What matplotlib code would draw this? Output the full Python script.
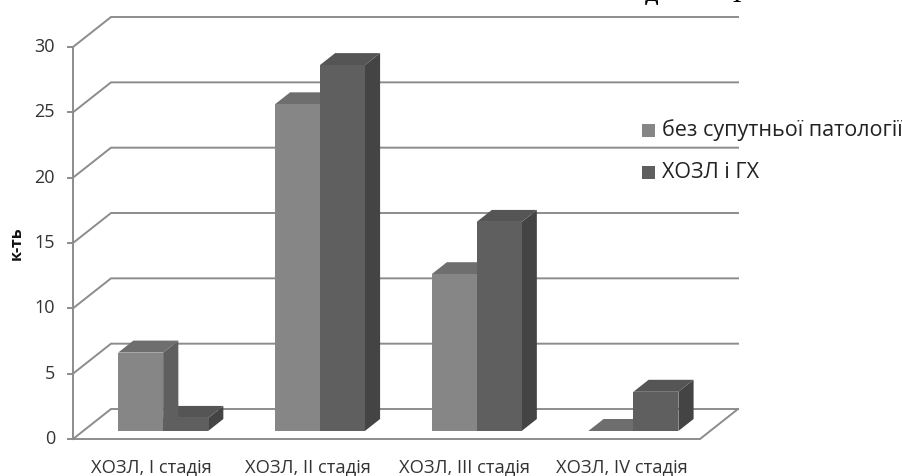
#!/usr/bin/env python

import matplotlib
matplotlib.use("Agg")
import matplotlib.pyplot as plt
from matplotlib.patches import Polygon

plt.rcParams['font.family'] = ['Open Sans', 'DejaVu Sans']

categories = ['ХОЗЛ, I стадія', 'ХОЗЛ, II стадія', 'ХОЗЛ, III стадія', 'ХОЗЛ, IV стадія']
series_names = ['без супутньої патології', 'ХОЗЛ і ГХ']
plain = [6, 25, 12, 0]
with_gh = [1, 28, 16, 3]
yticks = [0, 5, 10, 15, 20, 25, 30]

GRID = '#8c8c8c'
COLOURS = [('#868686', '#6e6e6e', '#5f5f5f'), ('#5f5f5f', '#555555', '#444444')]

# depth of the 3d box in data units (38px across, 30px up)
DX = 38 / 156.75
DY = 30 / 13.07
BAR_W = 45 / 156.75
GAP = 35 / 156.75


def shift(x, y, d):
    return (x + d * DX, y + d * DY)


def bar3d(ax, x, h, cols):
    front, top, side = cols
    d0, d1 = 0.267, 0.667
    x1 = x + BAR_W
    if h > 0:
        ax.add_patch(Polygon([shift(x, 0, d0), shift(x1, 0, d0), shift(x1, h, d0), shift(x, h, d0)],
                             fc=front, ec='none', zorder=3))
        ax.add_patch(Polygon([shift(x1, 0, d0), shift(x1, 0, d1), shift(x1, h, d1), shift(x1, h, d0)],
                             fc=side, ec='none', zorder=2.5))
    ax.add_patch(Polygon([shift(x, h, d0), shift(x1, h, d0), shift(x1, h, d1), shift(x, h, d1)],
                         fc=top, ec='none', zorder=2.5))


fig = plt.figure(figsize=(9.03, 4.76), dpi=100)
ax = fig.add_axes([73 / 903, 1 - 439 / 476, 627 / 903, 392 / 476])
ax.set_xlim(0, 4)
ax.set_ylim(0, 30)
ax.patch.set_visible(False)
for s in ax.spines.values():
    s.set_visible(False)

# walls and gridlines
for v in yticks:
    p0 = (0, v)
    p1 = shift(0, v, 1)
    p2 = shift(4, v, 1)
    ax.plot([p0[0], p1[0], p2[0]], [p0[1], p1[1], p2[1]], color=GRID, lw=1.4,
            clip_on=False, zorder=1, solid_joinstyle='miter')
    ax.plot([-5 / 156.75, 0], [v, v], color=GRID, lw=1.4, clip_on=False, zorder=1)
    ax.text(-18 / 156.75, v, str(v), ha='right', va='center', fontsize=13, color='#333333')

ax.plot([0, 0], [0, 30], color=GRID, lw=1.4, clip_on=False, zorder=1)
fr = shift(4, 0, 1)
ax.plot([0, 4, fr[0]], [0, 0, fr[1]], color=GRID, lw=1.4, clip_on=False, zorder=1,
        solid_joinstyle='miter')

# bars
for i in range(len(categories)):
    x = i + GAP
    bar3d(ax, x + BAR_W, with_gh[i], COLOURS[1])
    bar3d(ax, x, plain[i], COLOURS[0])
    ax.text(i + 0.5, -2.15, categories[i], ha='center', va='center', fontsize=13.2, color='#333333')

ax.set_xticks([])
ax.set_yticks([])

fig.text(17 / 903, 1 - 243 / 476, 'к-ть', rotation=90, ha='center', va='center',
         fontsize=11.5, fontweight='bold', color='#111111')

# legend
for name, cols, y in zip(series_names, COLOURS, [130, 172]):
    fig.patches.append(plt.Rectangle((642 / 903, 1 - (y + 7) / 476), 13 / 903, 13 / 476,
                                     transform=fig.transFigure, fc=cols[0], ec='none'))
    fig.text(662 / 903, 1 - y / 476, name, ha='left', va='center', fontsize=15.5, color='#222222')

# heading cut off by the top edge of the picture, only the feet of two glyphs show
fig.text(651 / 903, 1 - 1 / 476, 'Д', ha='center', va='baseline', fontsize=14,
         fontweight='bold', family='Liberation Serif', color='black')
fig.text(736 / 903, 1 - 2 / 476, '1', ha='center', va='baseline', fontsize=14,
         fontweight='bold', family='Liberation Serif', color='black')

fig.savefig('out.png', dpi=100)
